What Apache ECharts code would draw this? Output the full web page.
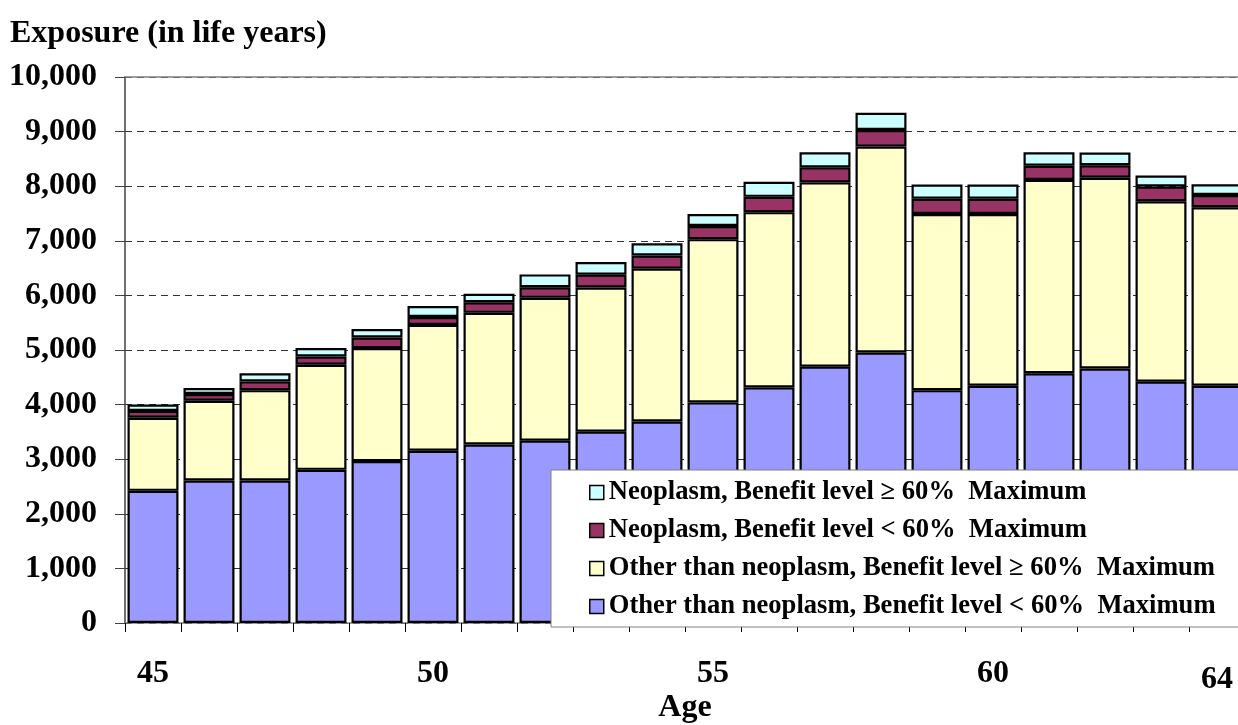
<!DOCTYPE html>
<html>
<head>
<meta charset="utf-8">
<script src="https://cdn.jsdelivr.net/npm/echarts@6/dist/echarts.min.js"></script>
<style>
  html, body { margin: 0; padding: 0; background: #fff; }
  #chart { width: 1238px; height: 725px; }
</style>
</head>
<body>
<div id="chart"></div>
<script>
// Exposure in life years by age, split by cause and benefit level
const ages = ['45','46','47','48','49','50','51','52','53','54','55','56','57','58','59','60','61','62','63','64'];
const shownAges = ['45', '50', '55', '60', '64'];

const otherLow  = [2420, 2610, 2610, 2805, 2965, 3155, 3270, 3340, 3505, 3690, 4040, 4315, 4695, 4955, 4265, 4345, 4575, 4660, 4420, 4345];
const otherHigh = [1340, 1460, 1655, 1925, 2070, 2305, 2410, 2615, 2640, 2800, 2990, 3210, 3375, 3770, 3225, 3145, 3540, 3495, 3305, 3270];
const neoLow    = [125, 125, 160, 150, 195, 145, 195, 195, 235, 240, 240, 280, 275, 305, 280, 280, 260, 230, 270, 225];
const neoHigh   = [115, 110, 150, 155, 155, 200, 155, 235, 230, 225, 220, 275, 275, 315, 260, 260, 245, 230, 200, 195];

const seriesNames = [
  'Other than neoplasm, Benefit level < 60%  Maximum',
  'Other than neoplasm, Benefit level \u2265 60%  Maximum',
  'Neoplasm, Benefit level < 60%  Maximum',
  'Neoplasm, Benefit level \u2265 60%  Maximum'
];
const seriesColors = ['#9999FF', '#FFFFCC', '#993366', '#CCFFFF'];
const seriesData = [otherLow, otherHigh, neoLow, neoHigh];

const FONT = '"Liberation Serif", "Times New Roman", serif';

const chart = echarts.init(document.getElementById('chart'), null, { renderer: 'canvas' });

const series = seriesData.map((d, i) => ({
  name: seriesNames[i],
  type: 'bar',
  stack: 'total',
  data: d,
  barCategoryGap: '9%',
  itemStyle: { color: seriesColors[i], borderColor: '#000', borderWidth: 2.2 },
  emphasis: { disabled: true }
}));

chart.setOption({
  animation: false,
  backgroundColor: '#fff',
  textStyle: { fontFamily: FONT },
  title: {
    text: 'Exposure (in life years)',
    left: 10,
    top: 18,
    padding: 0,
    textStyle: { fontFamily: FONT, fontWeight: 'bold', fontSize: 32, color: '#000' }
  },
  grid: { left: 125, right: -7, top: 77, bottom: 102, containLabel: false, outerBoundsMode: 'none' },
  legend: {
    orient: 'vertical',
    left: 551,
    top: 470,
    data: seriesNames.slice().reverse(),
    backgroundColor: '#fff',
    borderColor: '#808080',
    borderWidth: 1,
    padding: [9, 24, 7, 38],
    itemGap: 11,
    itemWidth: 14,
    itemHeight: 14,
    itemTextGap: 12,
    icon: 'rect',
    itemStyle: { borderColor: '#000', borderWidth: 1.5 },
    textStyle: { fontFamily: FONT, fontWeight: 'bold', fontSize: 26.6, color: '#000' }
  },
  xAxis: [
    {
      type: 'category',
      data: ages,
      name: 'Age',
      nameLocation: 'middle',
      nameGap: 69,
      nameMoveOverlap: false,
      nameTextStyle: { fontFamily: FONT, fontWeight: 'bold', fontSize: 32, color: '#000' },
      axisLine: { lineStyle: { color: '#808080', width: 1.5 } },
      axisTick: { show: true, length: 9, lineStyle: { color: '#000', width: 1 } },
      axisLabel: {
        interval: 0,
        margin: 35,
        fontFamily: FONT,
        fontWeight: 'bold',
        fontSize: 32,
        color: '#000',
        formatter: v => (shownAges.indexOf(v) < 0 ? '' : (v === '64' ? '{low|' + v + '}' : v)),
        rich: {
          low: { fontFamily: FONT, fontWeight: 'bold', fontSize: 32, color: '#000', padding: [6, 0, 0, 0] }
        }
      }
    },
    {
      type: 'category',
      data: ages,
      position: 'top',
      axisLine: { show: true, lineStyle: { color: '#808080', width: 1.5 } },
      axisTick: { show: false },
      axisLabel: { show: false }
    }
  ],
  yAxis: {
    type: 'value',
    min: 0,
    max: 10000,
    interval: 1000,
    axisLine: { show: true, lineStyle: { color: '#404040', width: 1.5 } },
    axisTick: { show: true, length: 10, lineStyle: { color: '#404040' } },
    axisLabel: {
      margin: 28,
      fontFamily: FONT,
      fontWeight: 'bold',
      fontSize: 32,
      color: '#000',
      formatter: v => v.toLocaleString('en-US')
    },
    splitLine: { show: true, lineStyle: { color: '#333', type: [7, 5], width: 1 } }
  },
  series: series
});
</script>
</body>
</html>
